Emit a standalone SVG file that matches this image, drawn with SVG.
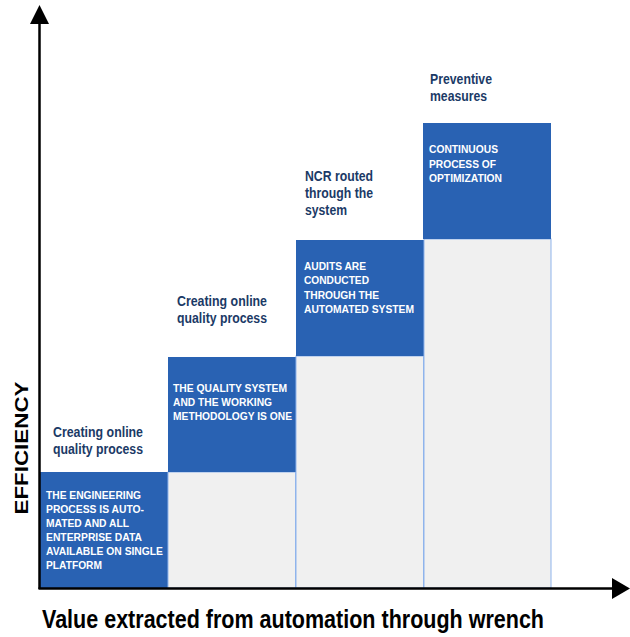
<svg xmlns="http://www.w3.org/2000/svg" width="630" height="637" viewBox="0 0 630 637">
<style>
.blue{fill:#2962b3}
.gray{fill:#f0f0f0;stroke:#8fb4ec;stroke-width:1}
.head{font-family:"Liberation Sans",Arial,sans-serif;font-weight:bold;font-size:14px;fill:#1b3a66}
.box{font-family:"Liberation Sans",Arial,sans-serif;font-weight:bold;font-size:11px;fill:#ffffff}
.axis{stroke:#000;stroke-width:2.5;fill:none}
.lbl{font-family:"Liberation Sans",Arial,sans-serif;font-weight:bold;fill:#000}
</style>
<rect width="630" height="637" fill="#ffffff"/>
<g id="col1">
<rect class="blue" x="40" y="472" width="128" height="116"/>
<text class="head"><tspan x="53" y="437" textLength="90" lengthAdjust="spacingAndGlyphs">Creating online</tspan><tspan x="53" y="454" textLength="90" lengthAdjust="spacingAndGlyphs">quality process</tspan></text>
<text class="box"><tspan x="46" y="499" textLength="95" lengthAdjust="spacingAndGlyphs">THE ENGINEERING</tspan><tspan x="46" y="513" textLength="98" lengthAdjust="spacingAndGlyphs">PROCESS IS AUTO-</tspan><tspan x="46" y="527" textLength="83" lengthAdjust="spacingAndGlyphs">MATED AND ALL</tspan><tspan x="46" y="541" textLength="96" lengthAdjust="spacingAndGlyphs">ENTERPRISE DATA</tspan><tspan x="46" y="555" textLength="117" lengthAdjust="spacingAndGlyphs">AVAILABLE ON SINGLE</tspan><tspan x="46" y="569" textLength="56" lengthAdjust="spacingAndGlyphs">PLATFORM</tspan></text>
</g>
<g id="col2">
<rect class="gray" x="168" y="472" width="127.5" height="116"/>
<rect class="blue" x="168" y="357" width="128" height="115"/>
<text class="head"><tspan x="177" y="306" textLength="90" lengthAdjust="spacingAndGlyphs">Creating online</tspan><tspan x="177" y="323" textLength="90" lengthAdjust="spacingAndGlyphs">quality process</tspan></text>
<text class="box"><tspan x="173" y="392" textLength="114" lengthAdjust="spacingAndGlyphs">THE QUALITY SYSTEM</tspan><tspan x="173" y="406" textLength="99" lengthAdjust="spacingAndGlyphs">AND THE WORKING</tspan><tspan x="173" y="420" textLength="119" lengthAdjust="spacingAndGlyphs">METHODOLOGY IS ONE</tspan></text>
</g>
<g id="col3">
<rect class="gray" x="296" y="356" width="127.5" height="232"/>
<rect class="blue" x="296" y="240" width="128" height="116"/>
<text class="head"><tspan x="305" y="181" textLength="68" lengthAdjust="spacingAndGlyphs">NCR routed</tspan><tspan x="305" y="198" textLength="68" lengthAdjust="spacingAndGlyphs">through the</tspan><tspan x="305" y="215" textLength="42" lengthAdjust="spacingAndGlyphs">system</tspan></text>
<text class="box"><tspan x="304" y="270" textLength="62" lengthAdjust="spacingAndGlyphs">AUDITS ARE</tspan><tspan x="304" y="284" textLength="65" lengthAdjust="spacingAndGlyphs">CONDUCTED</tspan><tspan x="304" y="298.5" textLength="75" lengthAdjust="spacingAndGlyphs">THROUGH THE</tspan><tspan x="304" y="313" textLength="110" lengthAdjust="spacingAndGlyphs">AUTOMATED SYSTEM</tspan></text>
</g>
<g id="col4">
<rect class="gray" x="424" y="239" width="127" height="349"/>
<rect class="blue" x="423" y="123" width="128" height="116"/>
<text class="head"><tspan x="430" y="84" textLength="62" lengthAdjust="spacingAndGlyphs">Preventive</tspan><tspan x="430" y="101" textLength="57" lengthAdjust="spacingAndGlyphs">measures</tspan></text>
<text class="box"><tspan x="429" y="153" textLength="69" lengthAdjust="spacingAndGlyphs">CONTINUOUS</tspan><tspan x="429" y="167.5" textLength="67" lengthAdjust="spacingAndGlyphs">PROCESS OF</tspan><tspan x="429" y="182" textLength="73" lengthAdjust="spacingAndGlyphs">OPTIMIZATION</tspan></text>
</g>
<g id="axes">
<line class="axis" x1="39.5" y1="22" x2="39.5" y2="589"/>
<polygon points="39.5,5 49,24 30,24" fill="#000"/>
<line class="axis" x1="38.5" y1="588.5" x2="614" y2="588.5"/>
<polygon points="630,588.5 612,578 612,599" fill="#000"/>
</g>
<text class="lbl" x="42" y="628" font-size="26.5" textLength="502" lengthAdjust="spacingAndGlyphs">Value extracted from automation through wrench</text>
<text class="lbl" font-size="17.5" text-anchor="middle" transform="translate(27.5,448) rotate(-90)" textLength="133" lengthAdjust="spacingAndGlyphs">EFFICIENCY</text>
</svg>
